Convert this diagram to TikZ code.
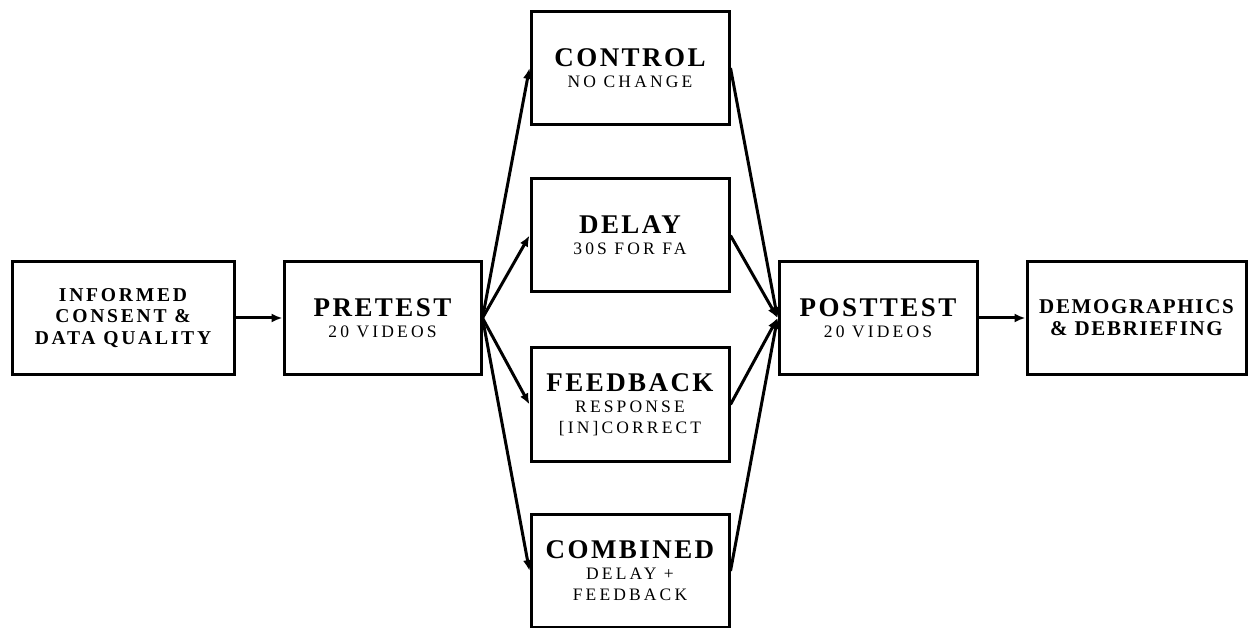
\documentclass[tikz,border=0pt]{standalone}
\usepackage{fontspec}
\setmainfont{Liberation Serif}
\newfontfamily\ttlfont[LetterSpace=9]{Liberation Serif}
\newfontfamily\subfont[LetterSpace=18]{Liberation Serif}
\newfontfamily\icfont[LetterSpace=14]{Liberation Serif}
\newfontfamily\demofont[LetterSpace=8]{Liberation Serif}
\usetikzlibrary{arrows.meta}
\newcommand\ttlT[1]{{\ttlfont\bfseries\fontsize{27}{27}\selectfont #1}}
\newcommand\subT[1]{{\subfont\fontsize{17.5}{21}\selectfont #1}}
\begin{document}
\begin{tikzpicture}[x=1pt,y=-1pt,
  box/.style={draw,line width=3pt,minimum width=198pt,minimum height=113pt,
    align=center,inner sep=0pt,font=\fontsize{17.5}{21}\selectfont},
  arr/.style={line width=3pt,-{Latex[length=11pt,width=9pt]}},
]
\useasboundingbox (0,0) rectangle (1248,628);
\node[box,minimum width=222pt,font=\icfont\bfseries\fontsize{19.6}{21.7}\selectfont] (ic) at (123,318)
  {INFORMED\\CONSENT \&\\DATA QUALITY};
\node[box,minimum width=197pt] (pre) at (382.5,318) {\ttlT{PRETEST}\\\subT{20 VIDEOS}};
\node[box] (ctl) at (630,68) {\ttlT{CONTROL}\\\subT{NO CHANGE}};
\node[box] (del) at (630,235.5) {\ttlT{DELAY}\\\subT{30S FOR FA}};
\node[box] (fb) at (630,404.5) {\ttlT{FEEDBACK}\\\subT{RESPONSE}\\\subT{[IN]CORRECT}};
\node[box] (com) at (630,571) {\ttlT{COMBINED}\\\subT{DELAY +}\\\subT{FEEDBACK}};
\node[box] (post) at (878,318) {\ttlT{POSTTEST}\\\subT{20 VIDEOS}};
\node[box,minimum width=219pt,font=\demofont\bfseries\fontsize{21}{21.7}\selectfont] (demo) at (1136.5,318)
  {DEMOGRAPHICS\\\& DEBRIEFING};
\draw[arr] (ic.east) -- (pre.west);
\foreach \g in {ctl,del,fb,com} {
  \draw[arr] (pre.east) -- (\g.west);
  \draw[arr] (\g.east) -- (post.west);
}
\draw[arr] (post.east) -- (demo.west);
\end{tikzpicture}
\end{document}
